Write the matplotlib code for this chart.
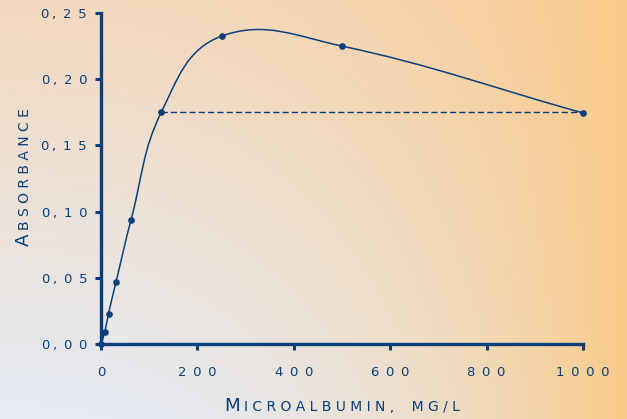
import numpy as np
import matplotlib
matplotlib.use('Agg')
import matplotlib.pyplot as plt
from matplotlib.path import Path
from matplotlib.patches import PathPatch
from matplotlib.ticker import FuncFormatter

# --- Data ---
conc = [0, 7.8, 15.6, 31.25, 62.5, 125, 250, 500, 1000]          # mg/L
absorb = [0.0, 0.009, 0.023, 0.047, 0.094, 0.175, 0.2325, 0.225, 0.1745]
hook_from = 125      # dashed line: same absorbance at 125 and 1000 mg/L
hook_to = 1000
x_ticks = [0, 200, 400, 600, 800, 1000]
y_ticks = [0.00, 0.05, 0.10, 0.15, 0.20, 0.25]

# --- Style ---
W, H = 627, 419
navy = '#0b3f7c'
plt.rcParams['font.family'] = ['DejaVu Sans']
EN = '\u2002'
THIN = '\u2009'


def spaced(s, sep=' '):
    return sep.join(s)


def smooth_path(ax, xs, ys, k=1.15):
    # smoothed line through the points, built as cubic Bezier pieces in
    # screen space (tangent along neighbours, handle ~ segment length)
    p = ax.transData.transform(np.column_stack([xs, ys]).astype(float))
    verts = [p[0]]
    codes = [Path.MOVETO]
    n = len(p)
    for i in range(n - 1):
        p0 = p[i - 1] if i > 0 else p[i]
        p1, p2 = p[i], p[i + 1]
        p3 = p[i + 2] if i + 2 < n else p[i + 1]
        d = np.hypot(*(p2 - p1))
        t1 = (p2 - p0) / np.hypot(*(p2 - p0))
        t2 = (p3 - p1) / np.hypot(*(p3 - p1))
        verts += [p1 + t1 * d * k / 3, p2 - t2 * d * k / 3, p2]
        codes += [Path.CURVE4] * 3
    return Path(ax.transData.inverted().transform(np.array(verts)), codes)


fig = plt.figure(figsize=(W / 100, H / 100), dpi=100)

# background gradient
bg = fig.add_axes([0, 0, 1, 1], zorder=0)
u = np.linspace(0, 1, 300)[None, :, None]
v = np.linspace(1, 0, 200)[:, None, None]
left_bot = np.array([229, 235, 245]) / 255
left_top = np.array([243, 217, 189]) / 255
right = np.array([250, 203, 138]) / 255
left = left_bot + (left_top - left_bot) * v
w = u ** 2.3
img = left * (1 - w) + right * w
bg.imshow(np.clip(img, 0, 1), aspect='auto', extent=[0, 1, 0, 1])
bg.axis('off')

ax = fig.add_axes([101 / W, 75 / H, 482 / W, 331 / H], zorder=1)
ax.patch.set_alpha(0)
ax.set_xlim(0, 1000)
ax.set_ylim(0, 0.25)

ax.add_patch(PathPatch(smooth_path(ax, conc, absorb), fill=False, ec=navy, lw=1.1))
ax.plot(conc, absorb, 'o', color=navy, ms=3.8, clip_on=False, zorder=4)
ax.plot([hook_from, hook_to], [absorb[conc.index(hook_from)]] * 2,
        ls=(0, (4.5, 2.2)), color=navy, lw=1.0)

ax.set_xticks(x_ticks)
ax.set_yticks(y_ticks)
ax.xaxis.set_major_formatter(FuncFormatter(lambda x, p: spaced('%d' % x, EN)))


def ylab(y, p):
    a, b = ('%.2f' % y).split('.')
    return a + THIN + ',' + THIN + ' ' + spaced(b, EN)


ax.yaxis.set_major_formatter(FuncFormatter(ylab))
for s in ['top', 'right']:
    ax.spines[s].set_visible(False)
for s in ['left', 'bottom']:
    ax.spines[s].set_linewidth(2.4)
    ax.spines[s].set_color(navy)
ax.tick_params(axis='both', colors=navy, width=2.2, length=4.5, labelsize=9.5,
               labelcolor=navy)
ax.tick_params(axis='x', pad=11)
ax.tick_params(axis='y', pad=5.5)

# small-caps axis labels
r = fig.canvas.get_renderer()


def caps_label(parts, center, base, vertical=False, gap=4.5):
    texts = []
    pos = 0.0
    for s, size in parts:
        if vertical:
            t = fig.text(base / W, 1 - (center - pos) / H, s, fontsize=size,
                         color=navy, rotation=90, rotation_mode='anchor',
                         ha='left', va='baseline')
            ext = t.get_window_extent(r).height
        else:
            t = fig.text((center + pos) / W, 1 - base / H, s, fontsize=size,
                         color=navy, ha='left', va='baseline')
            ext = t.get_window_extent(r).width
        texts.append((t, pos))
        pos += ext + gap
    total = pos - gap
    for t, p in texts:
        if vertical:
            t.set_position((base / W, 1 - (center + total / 2 - p) / H))
        else:
            t.set_position(((center - total / 2 + p) / W, 1 - base / H))


caps_label([('M', 13.2), (spaced('ICROALBUMIN,') + '    ' + spaced('MG/L'), 10)],
           center=342, base=411, gap=3.5)
caps_label([('A', 13.2), (spaced('BSORBANCE'), 10)],
           center=177, base=29, vertical=True, gap=4)

fig.savefig('out.png', dpi=100)
